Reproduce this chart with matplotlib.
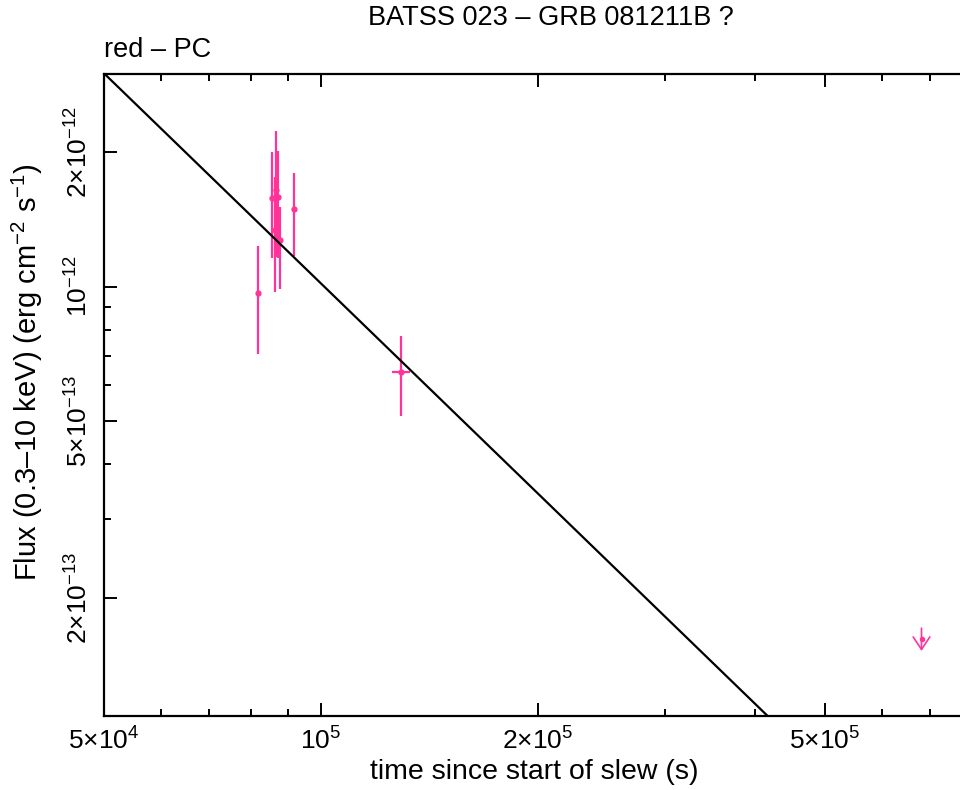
import numpy as np
import matplotlib
matplotlib.use('Agg')
from matplotlib import pyplot as plt
from matplotlib.ticker import FixedLocator, FixedFormatter, NullFormatter

plt.rcParams['font.family'] = ['Liberation Sans', 'DejaVu Sans']
plt.rcParams['mathtext.fontset'] = 'custom'
plt.rcParams['mathtext.rm'] = 'Liberation Sans'

# detections (PC mode)
t = [8.18e4, 8.56e4, 8.63e4, 8.67e4, 8.73e4, 8.76e4, 9.17e4, 1.29e5]
t_lo = [3.0e2, 3.0e2, 3.0e2, 3.0e2, 3.0e2, 3.0e2, 3.0e2, 3.6e3]
t_hi = [3.0e2, 3.0e2, 3.0e2, 3.0e2, 3.0e2, 3.0e2, 3.0e2, 4.1e3]
flux = [0.968e-12, 1.577e-12, 1.34e-12, 1.65e-12, 1.585e-12, 1.275e-12, 1.49e-12, 0.643e-12]
flux_up = [1.23e-12, 2.0e-12, 1.766e-12, 2.23e-12, 2.01e-12, 1.505e-12, 1.80e-12, 0.776e-12]
flux_dn = [0.707e-12, 1.156e-12, 0.974e-12, 1.162e-12, 1.158e-12, 0.985e-12, 1.168e-12, 0.511e-12]

# upper limit
ul_t = 6.81e5
ul_flux = 1.62e-13
ul_top = 1.71e-13
ul_tip = 1.52e-13

# power-law fit
fit_norm = 1.016e-12   # flux at 1e5 s
fit_index = 1.567

pink = '#ff3399'

fig = plt.figure(figsize=(9.6, 7.9), dpi=100)
ax = fig.add_axes([104/960, 74/790, 862/960, 642/790])

tt = np.array([5e4, 5e5])
ax.plot(tt, fit_norm * (tt / 1e5) ** (-fit_index), color='black', lw=1.6, zorder=3)

f = np.array(flux)
yerr = [f - np.array(flux_dn), np.array(flux_up) - f]
ax.errorbar(t, flux, xerr=[t_lo, t_hi], yerr=yerr, fmt='o', ms=3.5,
            color=pink, ecolor=pink, elinewidth=1.6, capsize=0, zorder=2)

ax.errorbar([ul_t], [ul_flux], xerr=[[2e3], [2e3]], fmt='o', ms=3,
            color=pink, elinewidth=1.0, capsize=0)
ax.annotate('', xy=(ul_t, ul_tip), xytext=(ul_t, ul_top),
            arrowprops=dict(arrowstyle='->,head_length=0.45,head_width=0.3', color=pink, lw=1.2,
                            shrinkA=0, shrinkB=0, mutation_scale=20))

ax.set_xscale('log')
ax.set_yscale('log')
ax.set_xlim(5e4, 7.85e5)
ax.set_ylim(1.086e-13, 3.0e-12)

xt = [5e4, 1e5, 2e5, 5e5]
ax.xaxis.set_major_locator(FixedLocator(xt))
ax.xaxis.set_major_formatter(FixedFormatter(['5×10$^{4}$', '10$^{5}$', '2×10$^{5}$', '5×10$^{5}$']))
xm = [6e4, 7e4, 8e4, 9e4, 3e5, 4e5, 6e5, 7e5]
ax.xaxis.set_minor_locator(FixedLocator(xm))
ax.xaxis.set_minor_formatter(NullFormatter())

yt = [2e-13, 5e-13, 1e-12, 2e-12]
ax.yaxis.set_major_locator(FixedLocator(yt))
ax.yaxis.set_major_formatter(FixedFormatter(['2×10$^{-13}$', '5×10$^{-13}$', '10$^{-12}$', '2×10$^{-12}$']))
ym = [3e-13, 4e-13, 6e-13, 7e-13, 8e-13, 9e-13]
ax.yaxis.set_minor_locator(FixedLocator(ym))
ax.yaxis.set_minor_formatter(NullFormatter())

ax.tick_params(which='both', direction='in', top=True, right=False, width=1.4,
               labelsize=19, colors='black')
ax.tick_params(which='major', length=9.5)
ax.tick_params(which='minor', length=5)
ax.tick_params(axis='x', pad=7)
ax.tick_params(axis='y', pad=9)
for lab in ax.get_yticklabels():
    lab.set_rotation(90)
    lab.set_va('center')
for s in ax.spines.values():
    s.set_linewidth(1.6)

fig.text(551/960, 1 - 18/790, 'BATSS 023 – GRB 081211B ?', ha='center', va='center', fontsize=19.5)
fig.text(104/960, 1 - 50/790, 'red – PC', ha='left', va='center', fontsize=19.5)
fig.text(534/960, 1 - 772/790, 'time since start of slew (s)', ha='center', va='center', fontsize=20.5)
fig.text(27/960, 1 - 372/790, 'Flux (0.3–10 keV) (erg cm$^{-2}$ s$^{-1}$)', ha='center', va='center',
         rotation=90, fontsize=21)

fig.savefig('out.png', dpi=100)
